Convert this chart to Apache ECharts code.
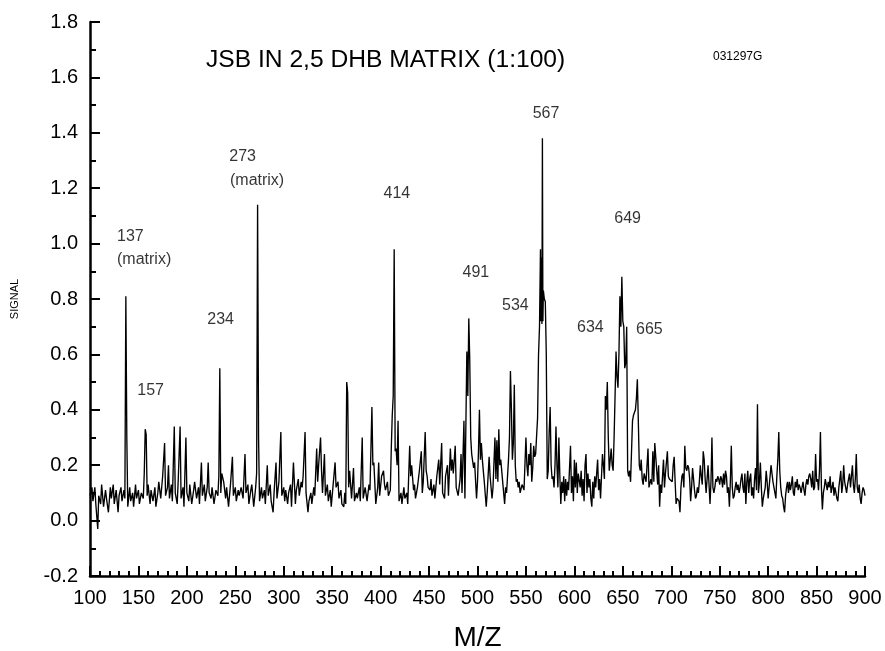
<!DOCTYPE html>
<html>
<head>
<meta charset="utf-8">
<script src="https://cdn.jsdelivr.net/npm/echarts@6/dist/echarts.min.js"></script>
<style>
  html, body { margin: 0; padding: 0; background: #fff; }
  #chart { width: 885px; height: 651px; }
</style>
</head>
<body>
<div id="chart"></div>
<script>
// MALDI spectrum, [m/z, signal] pairs split by mass range
const spectrum100to300 = [
  [100,.09],[102,.12],[103,.07],[105,.12],[106,.06],[108,-.03],[109,.09],[111,.06],[112,.13],[114,.05],
  [116,.11],[117,.08],[119,.03],[121,.12],[122,.08],[124,.13],[125,.06],[127,.11],[129,.03],[130,.09],
  [132,.12],[133,.07],[135,.11],[136,.08],[137,.81],[138,.30],[139,.05],[141,.12],[142,.07],[144,.10],
  [145,.05],[147,.13],[148,.08],[150,.11],[151,.06],[153,.10],[155,.08],[156,.17],[157,.33],[158,.31],
  [159,.09],[160,.13],[162,.06],[163,.11],[165,.07],[167,.12],[168,.05],[170,.10],[171,.14],[173,.08],
  [175,.16],[177,.28],[178,.09],[180,.12],[181,.20],[182,.08],[184,.13],[185,.07],[187,.34],[188,.10],
  [190,.06],[191,.14],[193,.34],[194,.08],[196,.12],[197,.05],[199,.30],[200,.10],[202,.07],[203,.13],
  [205,.06],[207,.11],[208,.14],[210,.08],[212,.12],[213,.06],[215,.21],[216,.09],[218,.13],[219,.07],
  [221,.12],[222,.21],[223,.10],[225,.08],[226,.12],[228,.06],[230,.11],[232,.09],[233,.16],[234,.55],
  [235,.10],[236,.17],[238,.14],[240,.08],[241,.12],[243,.05],[245,.13],[247,.23],[248,.09],[250,.12],
  [251,.07],[253,.11],[254,.09],[256,.12],[258,.08],[260,.24],[261,.10],[263,.13],[264,.06],[266,.11],
  [267,.13],[269,.05],[271,.12],[272,.17],[273,1.14],[274,.30],[275,.07],[277,.12],[278,.08],[280,.11],
  [281,.06],[283,.20],[284,.09],[286,.13],[287,.07],[289,.03],[290,.10],[292,.21],[293,.08],[295,.14],
  [297,.32],[298,.09],[300,.12]
];
const spectrum300to500 = [
  [301,.07],[302,.11],[304,.06],[305,.10],[307,.13],[308,.05],[310,.21],[312,.06],[313,.11],[315,.15],
  [316,.09],[318,.14],[319,.12],[320,.16],[322,.32],[323,.10],[325,.03],[326,.07],[328,.10],[329,.06],
  [331,.12],[332,.09],[334,.26],[335,.14],[336,.20],[338,.30],[339,.18],[340,.10],[342,.24],[343,.09],
  [345,.13],[346,.07],[348,.11],[349,.05],[351,.13],[353,.21],[354,.12],[356,.14],[357,.08],[359,.11],
  [360,.06],[362,.05],[363,.10],[364,.06],[365,.50],[366,.46],[367,.12],[368,.18],[370,.08],[372,.19],
  [373,.07],[375,.10],[376,.08],[378,.12],[379,.07],[381,.30],[382,.08],[384,.12],[386,.07],[388,.13],
  [389,.11],[391,.41],[392,.20],[393,.21],[395,.06],[397,.12],[398,.21],[399,.09],[401,.16],[403,.18],
  [404,.13],[405,.11],[407,.14],[408,.09],[410,.11],[411,.26],[412,.38],[413,.45],[414,.98],[415,.25],
  [416,.26],[417,.20],[418,.36],[419,.07],[421,.10],[422,.06],[424,.12],[425,.08],[427,.10],[428,.06],
  [430,.27],[431,.16],[432,.20],[434,.11],[435,.13],[436,.08],[438,.12],[440,.18],[442,.25],[443,.10],
  [444,.14],[446,.32],[447,.18],[448,.16],[449,.12],[451,.11],[452,.15],[453,.09],[455,.13],[456,.08],
  [458,.16],[460,.22],[461,.13],[463,.28],[464,.10],[466,.08],[467,.16],[469,.20],[470,.09],[472,.26],
  [473,.18],[474,.22],[475,.17],[477,.27],[478,.12],[480,.09],[482,.15],[483,.24],[484,.10],[486,.36],
  [487,.08],[489,.61],[490,.45],[491,.73],[492,.58],[493,.30],[494,.24],[496,.19],[497,.21],[499,.08],
  [500,.14]
];
const spectrum500to700 = [
  [501,.25],[502,.40],[503,.22],[504,.28],[505,.22],[507,.14],[509,.05],[510,.10],[512,.23],[513,.16],
  [515,.08],[516,.12],[518,.30],[519,.15],[520,.29],[521,.14],[522,.33],[523,.20],[524,.22],[526,.14],
  [528,.06],[529,.12],[530,.10],[532,.22],[533,.30],[534,.54],[535,.40],[536,.22],[537,.28],[538,.49],
  [539,.20],[540,.14],[541,.15],[542,.12],[543,.14],[544,.10],[546,.13],[548,.11],[550,.30],[551,.20],
  [552,.16],[553,.24],[554,.20],[555,.28],[556,.14],[557,.19],[558,.27],[559,.23],[560,.24],[562,.37],
  [563,.60],[564,.70],[565,.98],[565.5,.72],[566,.95],[566.5,.71],[567,1.38],[567.5,.72],[568,.83],[569,.80],
  [570,.79],[571,.60],[572,.15],[573,.18],[574,.32],[575,.41],[576,.20],[577,.15],[578,.16],[579,.12],
  [580,.20],[581,.34],[582,.20],[583,.12],[584,.30],[585,.16],[586,.06],[587,.14],[588,.10],[589,.16],
  [590,.07],[591,.15],[592,.09],[593,.14],[594,.11],[596,.27],[597,.10],[598,.16],[599,.07],[600,.22],
  [601,.12],[602,.21],[603,.10],[604,.17],[606,.12],[607,.18],[608,.09],[609,.15],[610,.07],[611,.20],
  [612,.24],[613,.10],[614,.17],[615,.12],[616,.15],[617,.08],[618,.05],[619,.14],[620,.08],[621,.16],
  [622,.12],[624,.22],[625,.11],[626,.15],[627,.08],[629,.24],[630,.20],[631,.15],[632,.45],[633,.40],
  [634,.50],[635,.30],[636,.18],[637,.22],[638,.26],[639,.20],[640,.18],[641,.30],[642,.45],[643,.61],
  [644,.52],[645,.48],[646,.60],[647,.81],[648,.70],[649,.88],[650,.72],[651,.70],[652,.55],[653,.57],
  [654,.70],[655,.18],[656,.16],[657,.18],[658,.14],[659,.25],[660,.36],[661,.38],[662,.39],[663,.40],
  [664,.44],[665,.51],[666,.36],[667,.20],[668,.18],[669,.22],[670,.15],[671,.13],[672,.17],[674,.14],
  [676,.26],[677,.12],[679,.15],[680,.13],[681,.25],[682,.14],[683,.28],[685,.18],[686,.13],[687,.20],
  [688,.05],[689,.13],[690,.10],[692,.22],[693,.12],[694,.17],[696,.25],[697,.16],[698,.15],[700,.15]
];
const spectrum700to900 = [
  [701,.14],[702,.20],[703,.23],[704,.14],[705,.06],[706,.08],[708,.07],[709,.03],[710,.12],[711,.16],
  [712,.17],[713,.12],[714,.27],[715,.19],[716,.18],[717,.20],[718,.19],[719,.15],[720,.07],[721,.12],
  [722,.19],[723,.15],[724,.11],[725,.08],[726,.09],[727,.12],[728,.10],[729,.14],[730,.20],[731,.16],
  [732,.13],[733,.25],[734,.22],[735,.15],[736,.10],[737,.10],[738,.20],[739,.13],[740,.06],[741,.14],
  [742,.30],[743,.12],[744,.10],[745,.12],[746,.15],[747,.14],[748,.16],[749,.15],[750,.13],[751,.16],
  [752,.15],[753,.12],[754,.17],[755,.13],[756,.18],[757,.16],[758,.10],[759,.12],[760,.05],[761,.14],
  [762,.27],[763,.12],[764,.08],[765,.09],[766,.12],[767,.14],[768,.11],[769,.13],[770,.10],[771,.12],
  [772,.15],[773,.17],[774,.12],[775,.10],[776,.17],[777,.06],[778,.14],[779,.18],[780,.10],[781,.15],
  [782,.17],[783,.09],[784,.12],[785,.08],[786,.15],[787,.19],[788,.11],[789,.42],[790,.10],[791,.14],
  [792,.21],[793,.12],[794,.05],[795,.08],[796,.10],[797,.12],[798,.18],[799,.14],[800,.08],[801,.12],
  [802,.16],[803,.20],[804,.17],[805,.14],[806,.12],[807,.10],[808,.08],[809,.16],[810,.22],[811,.32],
  [812,.18],[813,.12],[814,.09],[815,.08],[816,.05],[817,.03],[818,.09],[819,.12],[820,.14],[821,.10],
  [822,.14],[823,.11],[824,.13],[825,.16],[826,.10],[827,.09],[828,.14],[829,.12],[830,.15],[831,.11],
  [832,.13],[833,.12],[834,.10],[835,.12],[836,.14],[837,.11],[838,.09],[839,.13],[840,.15],[841,.13],
  [842,.16],[843,.17],[844,.15],[845,.12],[846,.18],[847,.11],[848,.12],[849,.24],[850,.14],[851,.15],
  [852,.11],[853,.18],[854,.32],[855,.12],[856,.04],[857,.10],[858,.12],[859,.15],[860,.13],[861,.11],
  [862,.14],[863,.12],[864,.16],[865,.10],[866,.12],[867,.14],[868,.09],[869,.12],[870,.10],[871,.08],
  [872,.07],[873,.12],[874,.15],[875,.18],[876,.10],[877,.13],[878,.20],[879,.14],[880,.12],[881,.10],
  [882,.13],[883,.15],[884,.17],[885,.12],[886,.16],[887,.20],[888,.13],[889,.10],[890,.15],[891,.24],
  [892,.12],[893,.10],[894,.13],[895,.08],[896,.06],[897,.10],[898,.12],[899,.11],[900,.09]
];

// Peak annotations: anchor (m/z, signal) of the text's left edge, and the text
const peakNotes = [
  [127.9, 1.024, '137'], [127.9, 0.941, '(matrix)'],
  [148.8, 0.471, '157'],
  [221.1, 0.725, '234'],
  [243.8, 1.314, '273'], [244.5, 1.226, '(matrix)'],
  [403.0, 1.179, '414'],
  [484.5, 0.894, '491'],
  [525.3, 0.775, '534'],
  [557.0, 1.470, '567'],
  [641.2, 1.091, '649'],
  [602.7, 0.696, '634'],
  [663.6, 0.691, '665']
];

const titleText = 'JSB IN 2,5 DHB MATRIX (1:100)';
const runCode = '031297G';
const xName = 'M/Z';
const yName = 'SIGNAL';

const FONT = '"Liberation Sans", Arial, Helvetica, sans-serif';
const spectrum = [].concat(spectrum100to300, spectrum300to500, spectrum500to700, spectrum700to900);

const chart = echarts.init(document.getElementById('chart'), null, { renderer: 'canvas' });
chart.setOption({
  animation: false,
  backgroundColor: '#fff',
  grid: { left: 90, right: 20, top: 22, bottom: 75, containLabel: false, outerBoundsMode: 'none' },
  xAxis: {
    type: 'value', min: 100, max: 900, interval: 50,
    name: xName, nameLocation: 'middle', nameGap: 48,
    nameTextStyle: { fontSize: 28, color: '#000', fontFamily: FONT },
    axisLine: { onZero: false, lineStyle: { color: '#000', width: 2.5 } },
    axisTick: { inside: true, length: 10, lineStyle: { color: '#000', width: 2 } },
    minorTick: { show: true, splitNumber: 5, length: 5, lineStyle: { color: '#000', width: 2 } },
    axisLabel: { fontSize: 20, color: '#000', margin: 12, fontFamily: FONT },
    splitLine: { show: false }, minorSplitLine: { show: false }
  },
  yAxis: {
    type: 'value', min: -0.2, max: 1.8, interval: 0.2,
    name: yName, nameLocation: 'middle', nameRotate: 90, nameGap: 70,
    nameTextStyle: { fontSize: 11, color: '#000', fontFamily: FONT },
    axisLine: { onZero: false, lineStyle: { color: '#000', width: 2.5 } },
    axisTick: { inside: true, length: 10, lineStyle: { color: '#000', width: 2 } },
    minorTick: { show: true, splitNumber: 2, length: 6, lineStyle: { color: '#000', width: 2 } },
    axisLabel: { fontSize: 20, color: '#000', margin: 12, fontFamily: FONT,
      formatter: v => v.toFixed(1) },
    splitLine: { show: false }, minorSplitLine: { show: false }
  },
  series: [
    {
      type: 'line', data: spectrum, showSymbol: false, silent: true,
      lineStyle: { color: '#000', width: 1.35 }
    },
    {
      type: 'scatter', data: peakNotes, symbolSize: 0, silent: true,
      label: {
        show: true, position: 'right', distance: 0,
        formatter: p => p.data[2],
        fontSize: 16, color: '#000', fontFamily: FONT
      }
    }
  ],
  graphic: [
    { type: 'text', x: 206, y: 61, scaleX: 1.07, silent: true,
      style: { text: titleText, fontSize: 23, fontFamily: FONT, fill: '#000',
               align: 'left', verticalAlign: 'middle' } },
    { type: 'text', x: 713, y: 57, silent: true,
      style: { text: runCode, fontSize: 12, fontFamily: FONT, fill: '#000',
               align: 'left', verticalAlign: 'middle' } }
  ]
});
</script>
</body>
</html>
